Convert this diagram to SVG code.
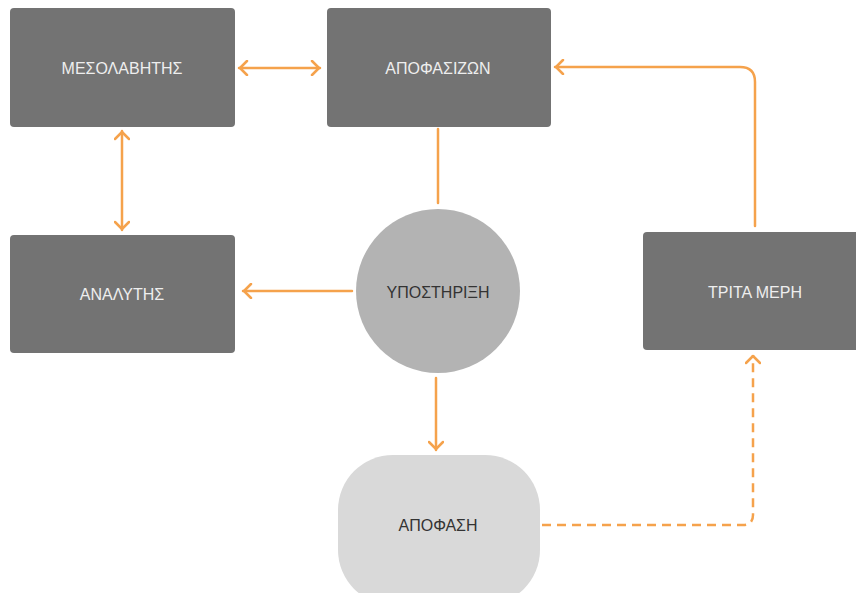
<svg xmlns="http://www.w3.org/2000/svg" width="856" height="593" viewBox="0 0 856 593">
<defs>
<style>
.box{fill:#737373;}
.lt{font-family:"Liberation Sans","Open Sans",Arial,sans-serif;font-size:16px;fill:#eeeeee;text-anchor:middle;dominant-baseline:central;}
.dt{font-family:"Liberation Sans","Open Sans",Arial,sans-serif;font-size:16px;fill:#333333;text-anchor:middle;dominant-baseline:central;}
.ln{fill:none;stroke:#f5a24c;stroke-width:2.5;stroke-linecap:round;stroke-linejoin:round;}
.dash{stroke-dasharray:9 6;stroke-linecap:butt;}
</style>
<marker id="ah" viewBox="0 0 12 16" refX="11" refY="8" markerWidth="12" markerHeight="16" markerUnits="userSpaceOnUse" orient="auto-start-reverse">
<path d="M3,1 L10,8 L3,15" fill="none" stroke="#f5a24c" stroke-width="2.5" stroke-linecap="round" stroke-linejoin="round"/>
</marker>
</defs>
<rect width="856" height="593" fill="#ffffff"/>
<g id="connectors">
<line class="ln" x1="239" y1="68" x2="320" y2="68" marker-start="url(#ah)" marker-end="url(#ah)"/>
<line class="ln" x1="122" y1="131" x2="122" y2="230" marker-start="url(#ah)" marker-end="url(#ah)"/>
<line class="ln" x1="438" y1="129" x2="438" y2="203"/>
<line class="ln" x1="352" y1="291" x2="243" y2="291" marker-end="url(#ah)"/>
<line class="ln" x1="436" y1="378" x2="436" y2="450" marker-end="url(#ah)"/>
<path class="ln" d="M755,226 L755,82 Q755,67 740,67 L555,67" marker-end="url(#ah)"/>
<path class="ln dash" d="M542,525 L743,525 Q753,525 753,515 L753,355" marker-end="url(#ah)"/>
</g>
<g id="mesolavitis">
<rect class="box" x="10" y="8" width="225" height="119" rx="4"/>
<text class="lt" x="122" y="68">ΜΕΣΟΛΑΒΗΤΗΣ</text>
</g>
<g id="apofasizon">
<rect class="box" x="327" y="8" width="224" height="119" rx="4"/>
<text class="lt" x="438" y="68">ΑΠΟΦΑΣΙΖΩΝ</text>
</g>
<g id="analytis">
<rect class="box" x="10" y="235" width="225" height="118" rx="4"/>
<text class="lt" x="122" y="294">ΑΝΑΛΥΤΗΣ</text>
</g>
<g id="ypostirixi">
<circle cx="438" cy="291" r="82" fill="#b3b3b3"/>
<text class="dt" x="438" y="292">ΥΠΟΣΤΗΡΙΞΗ</text>
</g>
<g id="trita-meri">
<rect class="box" x="643" y="232" width="220" height="118" rx="4"/>
<text class="lt" x="755" y="292">ΤΡΙΤΑ ΜΕΡΗ</text>
</g>
<g id="apofasi">
<rect x="338" y="455" width="202" height="150" rx="55" fill="#d9d9d9"/>
<text class="dt" x="438" y="525">ΑΠΟΦΑΣΗ</text>
</g>
</svg>
